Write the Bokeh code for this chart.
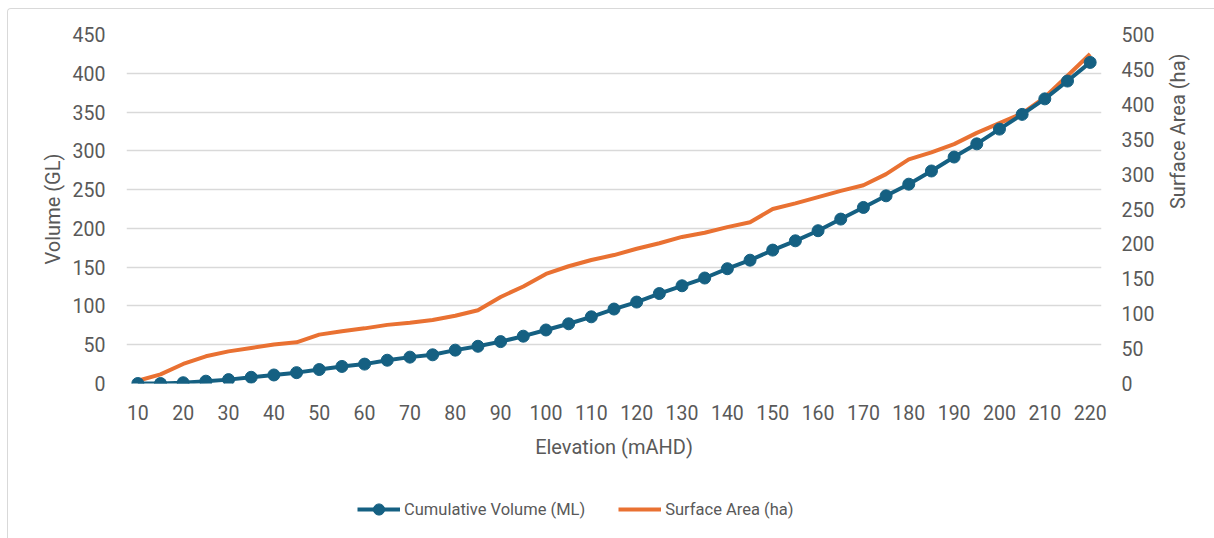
import math
from bokeh.plotting import figure
from bokeh.layouts import column
from bokeh.models import Range1d, LinearAxis, FixedTicker, Legend, LegendItem
from bokeh.embed import file_html
from bokeh.resources import INLINE

# ---- data ----
elevation = [10, 15, 20, 25, 30, 35, 40, 45, 50, 55, 60, 65, 70, 75, 80, 85, 90, 95,
             100, 105, 110, 115, 120, 125, 130, 135, 140, 145, 150, 155, 160, 165,
             170, 175, 180, 185, 190, 195, 200, 205, 210, 215, 220]
volume_gl = [0, 0, 1, 3, 5, 8, 11, 14, 18, 22, 25, 30, 34, 37, 43, 48, 54, 61,
             69, 77, 86, 96, 105, 116, 126, 136, 148, 159, 172, 184, 197, 212,
             227, 242, 257, 274, 292, 309, 328, 347, 367, 390, 414]
area_ha = [4, 13, 28, 39, 46, 51, 56, 59, 70, 75, 79, 84, 87, 91, 97, 105, 124, 139,
           157, 168, 177, 184, 193, 201, 210, 216, 224, 231, 250, 258, 267, 276,
           284, 300, 321, 331, 343, 359, 373, 387, 410, 441, 472]
x_ticks = list(range(10, 221, 10))
left_ticks = list(range(0, 451, 50))
right_ticks = list(range(0, 501, 50))

BLUE = "#156082"
ORANGE = "#E97132"
TXT = "#595959"
GRID = "#d9d9d9"
FONT = "Roboto"

p = figure(width=1207, height=460, output_backend="svg", toolbar_location=None,
           x_range=Range1d(7.5, 222.5), y_range=Range1d(0, 450),
           min_border_left=118, min_border_right=114, min_border_top=25,
           min_border_bottom=86)
p.margin = (8, 0, 0, 7)
p.styles = {"border-left": "1.5px solid #d9d9d9", "border-top": "1.5px solid #d9d9d9",
            "border-top-left-radius": "4px"}
p.extra_y_ranges = {"right": Range1d(0, 500)}
p.outline_line_color = None
p.background_fill_color = "white"
p.border_fill_color = "white"

# axes
p.xaxis.ticker = FixedTicker(ticks=x_ticks)
p.yaxis.ticker = FixedTicker(ticks=left_ticks)
ra = LinearAxis(y_range_name="right", ticker=FixedTicker(ticks=right_ticks),
                axis_label="Surface Area (ha)")
p.add_layout(ra, "right")
p.xaxis.axis_label = "Elevation (mAHD)"
p.yaxis[0].axis_label = "Volume (GL)"

for ax in [p.xaxis[0], p.yaxis[0], ra]:
    ax.axis_line_color = None
    ax.major_tick_line_color = None
    ax.minor_tick_line_color = None
    ax.major_tick_out = 0
    ax.major_tick_in = 0
    ax.minor_tick_out = 0
    ax.minor_tick_in = 0
    ax.major_label_text_color = TXT
    ax.major_label_text_font = FONT
    ax.major_label_text_font_size = "19.5px"
    ax.axis_label_text_color = TXT
    ax.axis_label_text_font = FONT
    ax.axis_label_text_font_size = "20px"
    ax.axis_label_text_font_style = "normal"

p.yaxis[0].major_label_standoff = 21
ra.major_label_standoff = 20
p.xaxis[0].major_label_standoff = 21
p.xaxis[0].axis_label_standoff = 12
p.yaxis[0].axis_label_standoff = 5
ra.axis_label_standoff = 21
ra.axis_label_orientation = math.pi / 2

p.xgrid.grid_line_color = None
p.ygrid.grid_line_color = GRID
p.ygrid.grid_line_width = 1.5

# series
r_area = p.line(elevation, area_ha, y_range_name="right", color=ORANGE, line_width=4)
r_vol = p.line(elevation, volume_gl, color=BLUE, line_width=4)
r_vol_m = p.scatter(elevation, volume_gl, color=BLUE, size=12)

# legend strip below the chart (legend proxies hold no visible data)
nan = float("nan")
pl = figure(width=1207, height=70, output_backend="svg", toolbar_location=None,
            x_range=Range1d(0, 1), y_range=Range1d(0, 1),
            min_border_left=0, min_border_right=0, min_border_top=0,
            min_border_bottom=0)
pl.margin = (0, 0, 0, 7)
pl.styles = {"border-left": "1.5px solid #d9d9d9"}
pl.axis.visible = False
pl.grid.visible = False
pl.outline_line_color = None
lv = pl.line([nan], [nan], color=BLUE, line_width=4)
lm = pl.scatter([nan], [nan], color=BLUE, size=12)
la = pl.line([nan], [nan], color=ORANGE, line_width=4)
legend = Legend(items=[LegendItem(label="Cumulative Volume (ML)", renderers=[lv, lm]),
                       LegendItem(label="Surface Area (ha)", renderers=[la])],
                orientation="horizontal", location=(231, 15),
                label_text_font=FONT, label_text_font_size="16.5px",
                label_text_color=TXT, glyph_width=43, glyph_height=28,
                label_standoff=4, spacing=33, border_line_color=None,
                background_fill_alpha=0, margin=0, padding=0)
pl.add_layout(legend, "center")

layout = column(p, pl, spacing=0)
open("out.html", "w").write(file_html(layout, INLINE))
